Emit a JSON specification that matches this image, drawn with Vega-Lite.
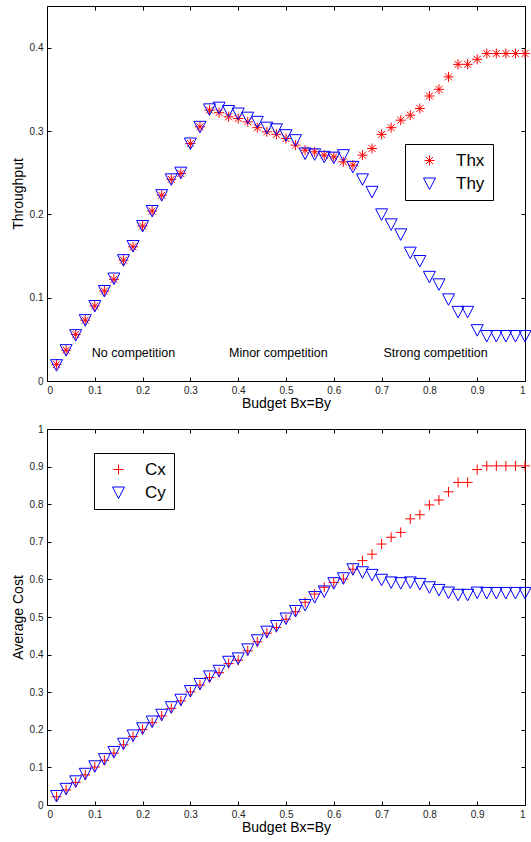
{
  "$schema": "https://vega.github.io/schema/vega-lite/v6.json",
  "background": "white",
  "padding": {"left": 10, "right": 4, "top": 5, "bottom": 5},
  "config": {
    "font": "Liberation Sans",
    "view": {"stroke": "black", "strokeWidth": 1},
    "axis": {"grid": false, "domain": false, "tickColor": "black", "tickSize": -4, "labelColor": "#222", "labelFontSize": 10, "labelPadding": 8, "titleFontWeight": "normal", "titleFontSize": 14, "titleColor": "black"},
    "concat": {"spacing": 12}
  },
  "resolve": {"scale": {"color": "independent", "shape": "independent"}, "legend": {"color": "independent", "shape": "independent"}},
  "datasets": {
    "top": [
      {"b":0.02,"s":"Thx","v":0.020},{"b":0.04,"s":"Thx","v":0.037},{"b":0.06,"s":"Thx","v":0.056},{"b":0.08,"s":"Thx","v":0.073},{"b":0.10,"s":"Thx","v":0.090},
      {"b":0.12,"s":"Thx","v":0.108},{"b":0.14,"s":"Thx","v":0.122},{"b":0.16,"s":"Thx","v":0.145},{"b":0.18,"s":"Thx","v":0.161},{"b":0.20,"s":"Thx","v":0.186},
      {"b":0.22,"s":"Thx","v":0.204},{"b":0.24,"s":"Thx","v":0.223},{"b":0.26,"s":"Thx","v":0.242},{"b":0.28,"s":"Thx","v":0.249},{"b":0.30,"s":"Thx","v":0.285},
      {"b":0.32,"s":"Thx","v":0.305},{"b":0.34,"s":"Thx","v":0.325},{"b":0.36,"s":"Thx","v":0.322},{"b":0.38,"s":"Thx","v":0.317},{"b":0.40,"s":"Thx","v":0.315},
      {"b":0.42,"s":"Thx","v":0.311},{"b":0.44,"s":"Thx","v":0.304},{"b":0.46,"s":"Thx","v":0.299},{"b":0.48,"s":"Thx","v":0.296},{"b":0.50,"s":"Thx","v":0.291},
      {"b":0.52,"s":"Thx","v":0.283},{"b":0.54,"s":"Thx","v":0.277},{"b":0.56,"s":"Thx","v":0.275},{"b":0.58,"s":"Thx","v":0.271},{"b":0.60,"s":"Thx","v":0.269},
      {"b":0.62,"s":"Thx","v":0.263},{"b":0.64,"s":"Thx","v":0.259},{"b":0.66,"s":"Thx","v":0.271},{"b":0.68,"s":"Thx","v":0.279},{"b":0.70,"s":"Thx","v":0.296},
      {"b":0.72,"s":"Thx","v":0.304},{"b":0.74,"s":"Thx","v":0.313},{"b":0.76,"s":"Thx","v":0.319},{"b":0.78,"s":"Thx","v":0.327},{"b":0.80,"s":"Thx","v":0.342},
      {"b":0.82,"s":"Thx","v":0.350},{"b":0.84,"s":"Thx","v":0.365},{"b":0.86,"s":"Thx","v":0.380},{"b":0.88,"s":"Thx","v":0.380},{"b":0.90,"s":"Thx","v":0.386},
      {"b":0.92,"s":"Thx","v":0.393},{"b":0.94,"s":"Thx","v":0.393},{"b":0.96,"s":"Thx","v":0.393},{"b":0.98,"s":"Thx","v":0.393},{"b":1.00,"s":"Thx","v":0.393},
      {"b":0.02,"s":"Thy","v":0.019},{"b":0.04,"s":"Thy","v":0.037},{"b":0.06,"s":"Thy","v":0.055},{"b":0.08,"s":"Thy","v":0.073},{"b":0.10,"s":"Thy","v":0.090},
      {"b":0.12,"s":"Thy","v":0.108},{"b":0.14,"s":"Thy","v":0.123},{"b":0.16,"s":"Thy","v":0.145},{"b":0.18,"s":"Thy","v":0.162},{"b":0.20,"s":"Thy","v":0.186},
      {"b":0.22,"s":"Thy","v":0.204},{"b":0.24,"s":"Thy","v":0.223},{"b":0.26,"s":"Thy","v":0.242},{"b":0.28,"s":"Thy","v":0.250},{"b":0.30,"s":"Thy","v":0.285},
      {"b":0.32,"s":"Thy","v":0.305},{"b":0.34,"s":"Thy","v":0.326},{"b":0.36,"s":"Thy","v":0.328},{"b":0.38,"s":"Thy","v":0.324},{"b":0.40,"s":"Thy","v":0.321},
      {"b":0.42,"s":"Thy","v":0.316},{"b":0.44,"s":"Thy","v":0.311},{"b":0.46,"s":"Thy","v":0.304},{"b":0.48,"s":"Thy","v":0.302},{"b":0.50,"s":"Thy","v":0.295},
      {"b":0.52,"s":"Thy","v":0.289},{"b":0.54,"s":"Thy","v":0.273},{"b":0.56,"s":"Thy","v":0.272},{"b":0.58,"s":"Thy","v":0.269},{"b":0.60,"s":"Thy","v":0.268},
      {"b":0.62,"s":"Thy","v":0.271},{"b":0.64,"s":"Thy","v":0.257},{"b":0.66,"s":"Thy","v":0.242},{"b":0.68,"s":"Thy","v":0.227},{"b":0.70,"s":"Thy","v":0.200},
      {"b":0.72,"s":"Thy","v":0.188},{"b":0.74,"s":"Thy","v":0.176},{"b":0.76,"s":"Thy","v":0.154},{"b":0.78,"s":"Thy","v":0.144},{"b":0.80,"s":"Thy","v":0.125},
      {"b":0.82,"s":"Thy","v":0.116},{"b":0.84,"s":"Thy","v":0.098},{"b":0.86,"s":"Thy","v":0.083},{"b":0.88,"s":"Thy","v":0.083},{"b":0.90,"s":"Thy","v":0.061},
      {"b":0.92,"s":"Thy","v":0.054},{"b":0.94,"s":"Thy","v":0.054},{"b":0.96,"s":"Thy","v":0.054},{"b":0.98,"s":"Thy","v":0.054},{"b":1.00,"s":"Thy","v":0.054}
    ],
    "bottom": [
      {"b":0.02,"s":"Cx","v":0.022},{"b":0.04,"s":"Cx","v":0.040},{"b":0.06,"s":"Cx","v":0.060},{"b":0.08,"s":"Cx","v":0.080},{"b":0.10,"s":"Cx","v":0.101},
      {"b":0.12,"s":"Cx","v":0.119},{"b":0.14,"s":"Cx","v":0.138},{"b":0.16,"s":"Cx","v":0.160},{"b":0.18,"s":"Cx","v":0.182},{"b":0.20,"s":"Cx","v":0.201},
      {"b":0.22,"s":"Cx","v":0.219},{"b":0.24,"s":"Cx","v":0.237},{"b":0.26,"s":"Cx","v":0.257},{"b":0.28,"s":"Cx","v":0.277},{"b":0.30,"s":"Cx","v":0.301},
      {"b":0.32,"s":"Cx","v":0.319},{"b":0.34,"s":"Cx","v":0.339},{"b":0.36,"s":"Cx","v":0.352},{"b":0.38,"s":"Cx","v":0.376},{"b":0.40,"s":"Cx","v":0.385},
      {"b":0.42,"s":"Cx","v":0.410},{"b":0.44,"s":"Cx","v":0.434},{"b":0.46,"s":"Cx","v":0.457},{"b":0.48,"s":"Cx","v":0.472},{"b":0.50,"s":"Cx","v":0.494},
      {"b":0.52,"s":"Cx","v":0.514},{"b":0.54,"s":"Cx","v":0.539},{"b":0.56,"s":"Cx","v":0.561},{"b":0.58,"s":"Cx","v":0.579},{"b":0.60,"s":"Cx","v":0.592},
      {"b":0.62,"s":"Cx","v":0.601},{"b":0.64,"s":"Cx","v":0.627},{"b":0.66,"s":"Cx","v":0.650},{"b":0.68,"s":"Cx","v":0.667},{"b":0.70,"s":"Cx","v":0.694},
      {"b":0.72,"s":"Cx","v":0.712},{"b":0.74,"s":"Cx","v":0.725},{"b":0.76,"s":"Cx","v":0.761},{"b":0.78,"s":"Cx","v":0.772},{"b":0.80,"s":"Cx","v":0.798},
      {"b":0.82,"s":"Cx","v":0.811},{"b":0.84,"s":"Cx","v":0.833},{"b":0.86,"s":"Cx","v":0.858},{"b":0.88,"s":"Cx","v":0.858},{"b":0.90,"s":"Cx","v":0.892},
      {"b":0.92,"s":"Cx","v":0.902},{"b":0.94,"s":"Cx","v":0.902},{"b":0.96,"s":"Cx","v":0.902},{"b":0.98,"s":"Cx","v":0.902},{"b":1.00,"s":"Cx","v":0.902},
      {"b":0.02,"s":"Cy","v":0.024},{"b":0.04,"s":"Cy","v":0.043},{"b":0.06,"s":"Cy","v":0.063},{"b":0.08,"s":"Cy","v":0.083},{"b":0.10,"s":"Cy","v":0.103},
      {"b":0.12,"s":"Cy","v":0.122},{"b":0.14,"s":"Cy","v":0.141},{"b":0.16,"s":"Cy","v":0.163},{"b":0.18,"s":"Cy","v":0.185},{"b":0.20,"s":"Cy","v":0.204},
      {"b":0.22,"s":"Cy","v":0.222},{"b":0.24,"s":"Cy","v":0.240},{"b":0.26,"s":"Cy","v":0.260},{"b":0.28,"s":"Cy","v":0.280},{"b":0.30,"s":"Cy","v":0.303},
      {"b":0.32,"s":"Cy","v":0.322},{"b":0.34,"s":"Cy","v":0.342},{"b":0.36,"s":"Cy","v":0.357},{"b":0.38,"s":"Cy","v":0.381},{"b":0.40,"s":"Cy","v":0.390},
      {"b":0.42,"s":"Cy","v":0.414},{"b":0.44,"s":"Cy","v":0.438},{"b":0.46,"s":"Cy","v":0.461},{"b":0.48,"s":"Cy","v":0.476},{"b":0.50,"s":"Cy","v":0.496},
      {"b":0.52,"s":"Cy","v":0.516},{"b":0.54,"s":"Cy","v":0.532},{"b":0.56,"s":"Cy","v":0.553},{"b":0.58,"s":"Cy","v":0.568},{"b":0.60,"s":"Cy","v":0.590},
      {"b":0.62,"s":"Cy","v":0.603},{"b":0.64,"s":"Cy","v":0.627},{"b":0.66,"s":"Cy","v":0.619},{"b":0.68,"s":"Cy","v":0.612},{"b":0.70,"s":"Cy","v":0.599},
      {"b":0.72,"s":"Cy","v":0.592},{"b":0.74,"s":"Cy","v":0.590},{"b":0.76,"s":"Cy","v":0.592},{"b":0.78,"s":"Cy","v":0.588},{"b":0.80,"s":"Cy","v":0.579},
      {"b":0.82,"s":"Cy","v":0.572},{"b":0.84,"s":"Cy","v":0.565},{"b":0.86,"s":"Cy","v":0.559},{"b":0.88,"s":"Cy","v":0.559},{"b":0.90,"s":"Cy","v":0.565},
      {"b":0.92,"s":"Cy","v":0.564},{"b":0.94,"s":"Cy","v":0.564},{"b":0.96,"s":"Cy","v":0.564},{"b":0.98,"s":"Cy","v":0.564},{"b":1.00,"s":"Cy","v":0.564}
    ],
    "notes": [
      {"b":0.181,"v":0.034,"label":"No competition"},
      {"b":0.484,"v":0.034,"label":"Minor competition"},
      {"b":0.813,"v":0.034,"label":"Strong competition"}
    ]
  },
  "vconcat": [
    {
      "width": 478,
      "height": 375,
      "resolve": {"axis": {"x": "independent", "y": "independent"}},
      "layer": [
        {
          "data": {"name": "top"},
          "mark": {"type": "point", "filled": false, "strokeWidth": 1, "opacity": 1, "size": 100},
          "encoding": {
            "x": {"field": "b", "type": "quantitative", "scale": {"domain": [0, 1], "nice": false},
                  "axis": {"values": [0,0.1,0.2,0.3,0.4,0.5,0.6,0.7,0.8,0.9,1], "format": "~g", "title": "Budget Bx=By", "titlePadding": 1}},
            "y": {"field": "v", "type": "quantitative", "scale": {"domain": [0, 0.45], "nice": false},
                  "axis": {"values": [0,0.1,0.2,0.3,0.4], "format": "~g", "title": "Throughput", "titlePadding": 4}},
            "color": {"field": "s", "type": "nominal", "scale": {"domain": ["Thx","Thy"], "range": ["#ff0000","#0000ff"]},
                      "legend": {"title": null, "orient": "none", "legendX": 358, "legendY": 138, "strokeColor": "black", "padding": 8, "labelFontSize": 17, "labelColor": "black", "symbolSize": 100, "symbolStrokeWidth": 1, "rowPadding": 5, "labelOffset": 18, "symbolOffset": 8, "fillColor": "white"}},
            "shape": {"field": "s", "type": "nominal", "scale": {"domain": ["Thx","Thy"], "range": ["M0,-1L0,1M-1,0L1,0M-0.7,-0.7L0.7,0.7M-0.7,0.7L0.7,-0.7", "M-1.2,-1.1L1.2,-1.1L0,1.2Z"]},
                      "legend": {"title": null, "orient": "none", "legendX": 358, "legendY": 138, "strokeColor": "black", "padding": 8, "labelFontSize": 17, "labelColor": "black", "symbolSize": 100, "symbolStrokeWidth": 1, "rowPadding": 5, "labelOffset": 18, "symbolOffset": 8, "fillColor": "white"}}
          }
        },
        {
          "data": {"name": "notes"},
          "mark": {"type": "text", "fontSize": 12.5, "color": "black", "align": "center", "baseline": "middle"},
          "encoding": {
            "x": {"field": "b", "type": "quantitative", "axis": null},
            "y": {"field": "v", "type": "quantitative", "axis": null},
            "text": {"field": "label", "type": "nominal"}
          }
        },
        {
          "data": {"name": "top"},
          "mark": {"type": "point", "opacity": 0},
          "encoding": {
            "x": {"field": "b", "type": "quantitative", "axis": {"orient": "top", "values": [0,0.1,0.2,0.3,0.4,0.5,0.6,0.7,0.8,0.9,1], "labels": false, "title": null}},
            "y": {"field": "v", "type": "quantitative", "axis": {"orient": "right", "values": [0,0.1,0.2,0.3,0.4], "labels": false, "title": null}}
          }
        }
      ]
    },
    {
      "width": 478,
      "height": 376,
      "resolve": {"axis": {"x": "independent", "y": "independent"}},
      "layer": [
        {
          "data": {"name": "bottom"},
          "mark": {"type": "point", "filled": false, "strokeWidth": 1, "opacity": 1, "size": 100},
          "encoding": {
            "x": {"field": "b", "type": "quantitative", "scale": {"domain": [0, 1], "nice": false},
                  "axis": {"values": [0,0.1,0.2,0.3,0.4,0.5,0.6,0.7,0.8,0.9,1], "format": "~g", "title": "Budget Bx=By", "titlePadding": 1}},
            "y": {"field": "v", "type": "quantitative", "scale": {"domain": [0, 1], "nice": false},
                  "axis": {"values": [0,0.1,0.2,0.3,0.4,0.5,0.6,0.7,0.8,0.9,1], "format": "~g", "title": "Average Cost", "titlePadding": 4}},
            "color": {"field": "s", "type": "nominal", "scale": {"domain": ["Cx","Cy"], "range": ["#ff0000","#0000ff"]},
                      "legend": {"title": null, "orient": "none", "legendX": 47, "legendY": 24, "strokeColor": "black", "padding": 8, "labelFontSize": 17, "labelColor": "black", "symbolSize": 100, "symbolStrokeWidth": 1, "rowPadding": 5, "labelOffset": 18, "symbolOffset": 8, "fillColor": "white"}},
            "shape": {"field": "s", "type": "nominal", "scale": {"domain": ["Cx","Cy"], "range": ["M-1,0L1,0M0,-1L0,1", "M-1.2,-1.1L1.2,-1.1L0,1.2Z"]},
                      "legend": {"title": null, "orient": "none", "legendX": 47, "legendY": 24, "strokeColor": "black", "padding": 8, "labelFontSize": 17, "labelColor": "black", "symbolSize": 100, "symbolStrokeWidth": 1, "rowPadding": 5, "labelOffset": 18, "symbolOffset": 8, "fillColor": "white"}}
          }
        },
        {
          "data": {"name": "bottom"},
          "mark": {"type": "point", "opacity": 0},
          "encoding": {
            "x": {"field": "b", "type": "quantitative", "axis": {"orient": "top", "values": [0,0.1,0.2,0.3,0.4,0.5,0.6,0.7,0.8,0.9,1], "labels": false, "title": null}},
            "y": {"field": "v", "type": "quantitative", "axis": {"orient": "right", "values": [0,0.1,0.2,0.3,0.4,0.5,0.6,0.7,0.8,0.9,1], "labels": false, "title": null}}
          }
        }
      ]
    }
  ]
}
